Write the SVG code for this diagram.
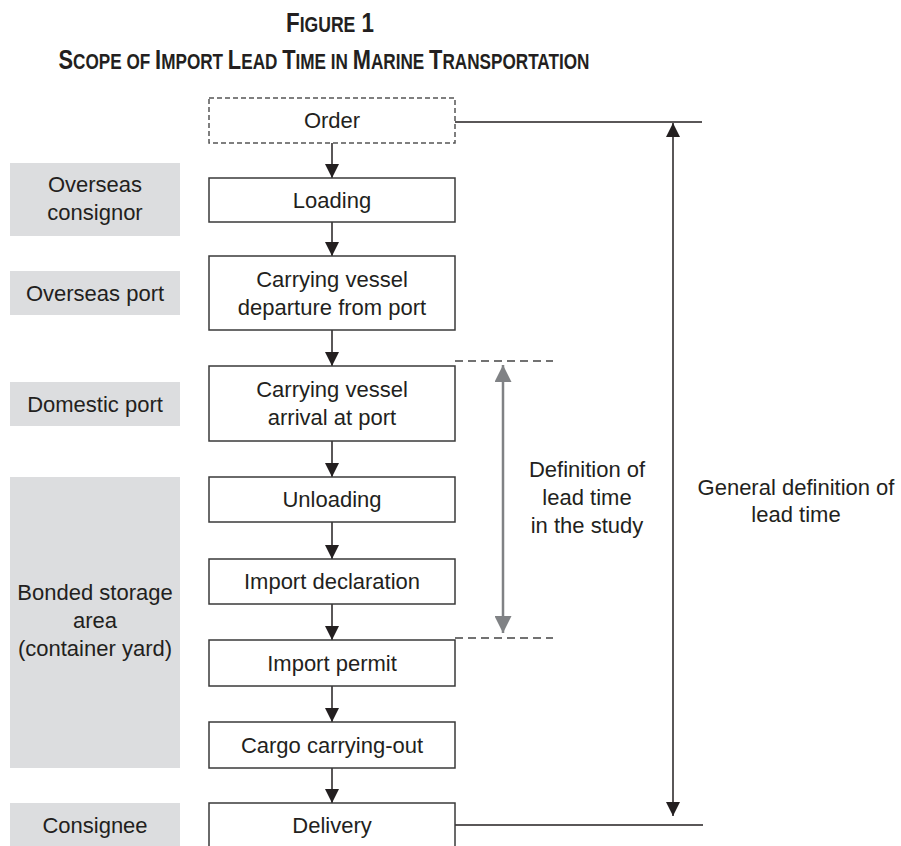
<svg xmlns="http://www.w3.org/2000/svg" width="901" height="846" viewBox="0 0 901 846">
<style>
text{font-family:"Liberation Sans",Arial,sans-serif;fill:#231f20;}
.t{font-size:22px;text-anchor:middle;}
.title{font-weight:bold;text-anchor:middle;}
.big{font-size:28px;}
.sm{font-size:22px;}
.box{fill:#ffffff;stroke:#3a3a3a;stroke-width:1.5;}
.dbox{fill:#ffffff;stroke:#555555;stroke-width:1.5;stroke-dasharray:5 3;}
.gray{fill:#dcdddf;}
.conn{stroke:#231f20;stroke-width:1.5;fill:none;}
.gconn{stroke:#808285;stroke-width:2.5;fill:none;}
.dash{stroke:#444444;stroke-width:1.5;stroke-dasharray:8 5;fill:none;}
</style>
<defs>
<marker id="ah" markerUnits="userSpaceOnUse" markerWidth="14" markerHeight="14" viewBox="0 0 14 14" refX="14" refY="7" orient="auto-start-reverse"><path d="M0,0 L14,7 L0,14 z" fill="#231f20"/></marker>
<marker id="gah" markerUnits="userSpaceOnUse" markerWidth="17" markerHeight="17" viewBox="0 0 17 17" refX="17" refY="8.5" orient="auto-start-reverse"><path d="M0,0 L17,8.5 L0,17 z" fill="#808285"/></marker>
</defs>

<g id="title">
<text class="title" transform="translate(330,32) scale(0.8,1)" x="0" y="0"><tspan class="big">F</tspan><tspan class="sm">IGURE</tspan><tspan class="big"> 1</tspan></text>
<text class="title" transform="translate(324,69) scale(0.78,1)" x="0" y="0"><tspan class="big">S</tspan><tspan class="sm">COPE OF </tspan><tspan class="big">I</tspan><tspan class="sm">MPORT </tspan><tspan class="big">L</tspan><tspan class="sm">EAD </tspan><tspan class="big">T</tspan><tspan class="sm">IME IN </tspan><tspan class="big">M</tspan><tspan class="sm">ARINE </tspan><tspan class="big">T</tspan><tspan class="sm">RANSPORTATION</tspan></text>
</g>

<g id="lane-overseas-consignor"><rect class="gray" x="10" y="163" width="170" height="73"/><text class="t" x="95" y="192">Overseas</text><text class="t" x="95" y="220">consignor</text></g>
<g id="lane-overseas-port"><rect class="gray" x="10" y="271" width="170" height="44"/><text class="t" x="95" y="301">Overseas port</text></g>
<g id="lane-domestic-port"><rect class="gray" x="10" y="382" width="170" height="44"/><text class="t" x="95" y="412">Domestic port</text></g>
<g id="lane-bonded"><rect class="gray" x="10" y="477" width="170" height="291"/><text class="t" x="95" y="600">Bonded storage</text><text class="t" x="95" y="628">area</text><text class="t" x="95" y="656">(container yard)</text></g>
<g id="lane-consignee"><rect class="gray" x="10" y="803" width="170" height="50"/><text class="t" x="95" y="833">Consignee</text></g>

<g id="connectors">
<line class="conn" x1="332" y1="143" x2="332" y2="178" marker-end="url(#ah)"/>
<line class="conn" x1="332" y1="222" x2="332" y2="256" marker-end="url(#ah)"/>
<line class="conn" x1="332" y1="330" x2="332" y2="366" marker-end="url(#ah)"/>
<line class="conn" x1="332" y1="441" x2="332" y2="477" marker-end="url(#ah)"/>
<line class="conn" x1="332" y1="522" x2="332" y2="559" marker-end="url(#ah)"/>
<line class="conn" x1="332" y1="604" x2="332" y2="640" marker-end="url(#ah)"/>
<line class="conn" x1="332" y1="686" x2="332" y2="722" marker-end="url(#ah)"/>
<line class="conn" x1="332" y1="768" x2="332" y2="803" marker-end="url(#ah)"/>
<line class="conn" x1="455" y1="122" x2="702" y2="122"/>
<line class="conn" x1="455" y1="825" x2="703" y2="825"/>
<line class="conn" x1="673" y1="123" x2="673" y2="816" marker-start="url(#ah)" marker-end="url(#ah)"/>
<line class="dash" x1="455" y1="361" x2="553" y2="361"/>
<line class="dash" x1="455" y1="638" x2="553" y2="638"/>
<line class="gconn" x1="503" y1="365" x2="503" y2="633" marker-start="url(#gah)" marker-end="url(#gah)"/>
</g>

<g id="order"><rect class="dbox" x="209" y="98" width="246" height="45"/><text class="t" x="332" y="128">Order</text></g>
<g id="loading"><rect class="box" x="209" y="178" width="246" height="44"/><text class="t" x="332" y="208">Loading</text></g>
<g id="departure"><rect class="box" x="209" y="256" width="246" height="74"/><text class="t" x="332" y="287">Carrying vessel</text><text class="t" x="332" y="315">departure from port</text></g>
<g id="arrival"><rect class="box" x="209" y="366" width="246" height="75"/><text class="t" x="332" y="397">Carrying vessel</text><text class="t" x="332" y="425">arrival at port</text></g>
<g id="unloading"><rect class="box" x="209" y="477" width="246" height="45"/><text class="t" x="332" y="507">Unloading</text></g>
<g id="import-declaration"><rect class="box" x="209" y="559" width="246" height="45"/><text class="t" x="332" y="589">Import declaration</text></g>
<g id="import-permit"><rect class="box" x="209" y="640" width="246" height="46"/><text class="t" x="332" y="671">Import permit</text></g>
<g id="cargo"><rect class="box" x="209" y="722" width="246" height="46"/><text class="t" x="332" y="753">Cargo carrying-out</text></g>
<g id="delivery"><rect class="box" x="209" y="803" width="246" height="50"/><text class="t" x="332" y="833">Delivery</text></g>

<g id="study-label"><text class="t" x="587" y="477">Definition of</text><text class="t" x="587" y="505">lead time</text><text class="t" x="587" y="533">in the study</text></g>
<g id="general-label"><text class="t" x="796" y="495">General definition of</text><text class="t" x="796" y="522">lead time</text></g>
</svg>
